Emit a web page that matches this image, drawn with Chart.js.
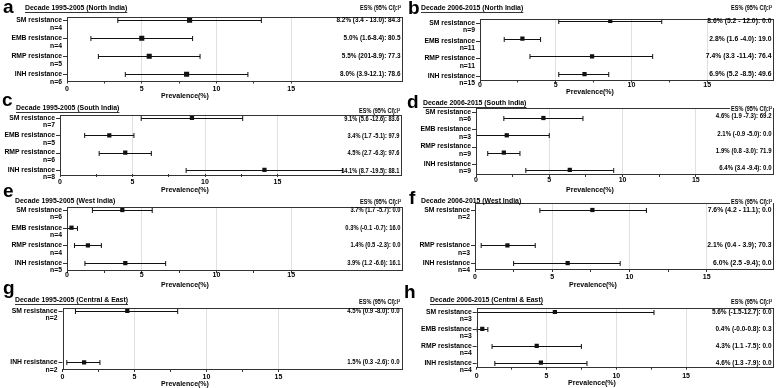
<!DOCTYPE html>
<html lang="en">
<head>
  <meta charset="UTF-8">
  <title>Drug resistance forest plots</title>
  <style>
    body { margin: 0; background: #fff; }
    #wrap { position: relative; width: 778px; height: 388px; }
    #wrap canvas { position: absolute; left: 0; top: 0; }
  </style>
</head>
<body>
  <div id="wrap"></div>

  <script src="https://cdn.jsdelivr.net/npm/chart.js"></script>
  <script>
    // data, one entry per panel (a..h), one slot per drug (null = not reported)
    const drugs = ['SM resistance', 'EMB resistance', 'RMP resistance', 'INH resistance'];
    const letters = ['a', 'b', 'c', 'd', 'e', 'f', 'g', 'h'];
    const titles = [
      'Decade 1995-2005 (North India)', 'Decade 2006-2015 (North India)',
      'Decade 1995-2005 (South India)', 'Decade 2006-2015 (South India)',
      'Decade 1995-2005 (West India)', 'Decade 2006-2015 (West India)',
      'Decade 1995-2005 (Central & East)', 'Decade 2006-2015 (Central & East)'
    ];
    const nCounts = [
      [4, 4, 5, 6], [9, 11, 11, 15], [7, 5, 6, 8], [6, 3, 9, 9],
      [6, 4, 4, 5], [2, null, 3, 4], [2, null, null, 2], [3, 3, 4, 4]
    ];
    const estimates = [
      [8.2, 5.0, 5.5, 8.0], [8.6, 2.8, 7.4, 6.9], [9.1, 3.4, 4.5, 14.1], [4.6, 2.1, 1.9, 6.4],
      [3.7, 0.3, 1.4, 3.9], [7.6, null, 2.1, 6.0], [4.5, null, null, 1.5], [5.6, 0.4, 4.3, 4.6]
    ];
    const lowerCI = [
      [3.4, 1.6, 2.1, 3.9], [5.2, 1.6, 3.3, 5.2], [5.6, 1.7, 2.7, 8.7], [1.9, -0.9, 0.8, 3.4],
      [1.7, -0.1, 0.5, 1.2], [4.2, null, 0.4, 2.5], [0.9, null, null, 0.3], [-1.5, -0.0, 1.1, 1.3]
    ];
    const upperCI = [
      [13.0, 8.4, 8.9, 12.1], [12.0, 4.0, 11.4, 8.5], [12.6, 5.1, 6.3, 19.5], [7.3, 5.0, 3.0, 9.4],
      [5.7, 0.7, 2.3, 6.6], [11.1, null, 3.9, 9.4], [8.0, null, null, 2.6], [12.7, 0.8, 7.5, 7.9]
    ];
    const noteLabels = [
      ['8.2% (3.4 - 13.0): 84.3', '5.0% (1.6-8.4): 80.5', '5.5% (201-8.9): 77.3', '8.0% (3.9-12.1): 78.6'],
      ['8.6% (5.2 - 12.0): 0.0', '2.8% (1.6 -4.0): 19.0', '7.4% (3.3 -11.4): 76.4', '6.9% (5.2 -8.5): 49.6'],
      ['9.1% (5.6 -12.6): 83.6', '3.4% (1.7 -5.1): 97.9', '4.5% (2.7 -6.3): 97.6', '14.1% (8.7 -19.5): 88.1'],
      ['4.6% (1.9 -7.3): 69.2', '2.1% (-0.9 -5.0): 0.0', '1.9% (0.8 -3.0): 71.9', '6.4% (3.4 -9.4): 0.0'],
      ['3.7% (1.7 -5.7): 0.0', '0.3% (-0.1 -0.7): 16.0', '1.4% (0.5 -2.3): 0.0', '3.9% (1.2 -6.6): 16.1'],
      ['7.6% (4.2 - 11.1); 0.0', null, '2.1% (0.4 - 3.9); 70.3', '6.0% (2.5 -9.4); 0.0'],
      ['4.5% (0.9 -8.0): 0.0', null, null, '1.5% (0.3 -2.6): 0.0'],
      ['5.6% (-1.5-12.7): 0.0', '0.4% (-0.0-0.8): 0.3', '4.3% (1.1 -7.5): 0.0', '4.6% (1.3 -7.9): 0.0']
    ];
    const xTicks = [0, 2.5, 5, 7.5, 10, 12.5, 15];
    const header = 'ES% (95% CI):I\u00b2';

    // layout of each panel on the page (pixels); sq = horizontal squeeze of the right-hand text
    const panels = [
      { L: 67, R: 403, T: 17, B: 80.5, pxu: 14.95, row0: 20.3, step: 18, lx: 3, ly: 13, tx: 25, ty: 8, ul: true, hy: 8, ax: 185, ay: 96, pad: 1, labDy: 0, noteDy: 0, pr: 3.6, sq: 0.97 },
      { L: 480, R: 777, T: 19, B: 79.5, pxu: 15.3, row0: 21, step: 17.7, lx: 408, ly: 14, tx: 421, ty: 8, ul: true, hy: 8, ax: 590, ay: 92, pad: -2, labDy: 2, noteDy: 0, pr: 3, sq: 1.03 },
      { L: 60, R: 402, T: 114.5, B: 174, pxu: 14.5, row0: 118, step: 17.3, lx: 2, ly: 106, tx: 16, ty: 108, ul: true, hy: 111, ax: 185, ay: 190, pad: 0.5, labDy: 0, noteDy: 1, pr: 3, sq: 0.86 },
      { L: 476, R: 777, T: 108, B: 174, pxu: 14.8, row0: 118, step: 17.3, lx: 407, ly: 108, tx: 423, ty: 103, ul: true, hy: 109, ax: 590, ay: 190, pad: -1.5, labDy: -6, noteDy: -1.5, pr: 3, sq: 0.92 },
      { L: 67, R: 403, T: 207, B: 270, pxu: 14.95, row0: 210, step: 17.7, lx: 3, ly: 197, tx: 15, ty: 201, ul: false, hy: 202, ax: 185, ay: 285, pad: -2, labDy: 0, noteDy: 0, pr: 3, sq: 0.88 },
      { L: 475, R: 777, T: 203, B: 269, pxu: 15.6, row0: 210, step: 17.7, lx: 409, ly: 204, tx: 421, ty: 201, ul: false, hy: 202, ax: 593, ay: 285, pad: 0.5, labDy: 0, noteDy: 0, pr: 3, sq: 1.03 },
      { L: 62.5, R: 402, T: 308, B: 369, pxu: 14.4, row0: 311, step: 17.1, lx: 3, ly: 294, tx: 15, ty: 300, ul: true, hy: 302, ax: 185, ay: 384, pad: 1, labDy: 0, noteDy: 0, pr: 3, sq: 0.92 },
      { L: 476.7, R: 777, T: 308, B: 366.7, pxu: 14.1, row0: 312, step: 16.9, lx: 404, ly: 298, tx: 430, ty: 300, ul: true, hy: 302, ax: 592, ay: 383, pad: 2, labDy: 0, noteDy: 0, pr: 3, sq: 0.98 }
    ];

    const W = 778, H = 388;
    const FONT = '"Liberation Sans", Arial, sans-serif';
    const bold = size => 'bold ' + size + 'px ' + FONT;

    // right-aligned text, squeezed horizontally by k
    function squeezedRight(ctx, text, x, y, k) {
      ctx.save();
      ctx.translate(x, y);
      ctx.scale(k, 1);
      ctx.textAlign = 'right';
      ctx.fillText(text, 0, 0);
      ctx.restore();
    }

    const forestPlugin = {
      id: 'forest',
      beforeDatasetsDraw(chart, args, opts) {
        const i = opts.idx;
        const { ctx, chartArea: a, scales: { x, y } } = chart;
        ctx.save();
        ctx.beginPath();
        ctx.rect(a.left, a.top, a.right - a.left, a.bottom - a.top);
        ctx.clip();
        ctx.strokeStyle = '#111';
        ctx.lineWidth = 1;
        estimates[i].forEach((v, r) => {
          if (v === null) return;
          const py = Math.round(y.getPixelForValue(r)) + 0.5;
          const x1 = x.getPixelForValue(lowerCI[i][r]);
          const x2 = x.getPixelForValue(upperCI[i][r]);
          ctx.beginPath();
          ctx.moveTo(x1, py); ctx.lineTo(x2, py);
          ctx.moveTo(x1, py - 2.5); ctx.lineTo(x1, py + 2.5);
          ctx.moveTo(x2, py - 2.5); ctx.lineTo(x2, py + 2.5);
          ctx.stroke();
        });
        ctx.restore();
      },
      afterDraw(chart, args, opts) {
        const i = opts.idx, g = panels[i];
        const { ctx, chartArea: a, scales: { y } } = chart;
        ctx.save();

        // frame
        ctx.strokeStyle = '#333';
        ctx.lineWidth = 1;
        ctx.strokeRect(Math.round(a.left) + 0.5, Math.round(a.top) + 0.5,
          Math.round(a.right - a.left) - 1, Math.round(a.bottom - a.top));

        ctx.fillStyle = '#000';
        ctx.textBaseline = 'middle';

        // row labels + n, and the estimate text on the right
        drugs.forEach((d, r) => {
          if (estimates[i][r] === null) return;
          const py = y.getPixelForValue(r);
          const ly = py + g.labDy;
          ctx.font = bold(6.8);
          ctx.textAlign = 'right';
          ctx.fillText(d, a.left - 5, ly);
          ctx.fillText('n=' + nCounts[i][r], a.left - 5, ly + 7.5);
          ctx.beginPath();
          ctx.moveTo(a.left - 4, Math.round(ly) + 0.5);
          ctx.lineTo(a.left, Math.round(ly) + 0.5);
          ctx.stroke();
          ctx.font = bold(6.6);
          squeezedRight(ctx, noteLabels[i][r], a.right - 2.5, py + g.noteDy, g.sq);
        });

        // header above the estimate column
        ctx.font = bold(6.6);
        const hw = ctx.measureText(header).width * 0.84;
        ctx.fillStyle = '#fff';
        ctx.fillRect(a.right - 3 - hw, g.hy - 4, hw + 2, 8);
        ctx.fillStyle = '#000';
        squeezedRight(ctx, header, a.right - 2, g.hy, 0.84);

        // panel letter and title
        ctx.textAlign = 'left';
        ctx.textBaseline = 'alphabetic';
        ctx.font = bold(19);
        ctx.fillText(letters[i], g.lx, g.ly);
        ctx.textBaseline = 'middle';
        ctx.font = bold(6.9);
        ctx.fillText(titles[i], g.tx, g.ty);
        if (g.ul) {
          ctx.fillRect(g.tx, g.ty + 4, ctx.measureText(titles[i]).width, 0.8);
        }

        // axis title
        ctx.textAlign = 'center';
        ctx.font = bold(7);
        ctx.fillText('Prevalence(%)', g.ax, g.ay);
        ctx.restore();
      }
    };

    const wrap = document.getElementById('wrap');

    panels.forEach((g, i) => {
      const canvas = document.createElement('canvas');
      canvas.width = W;
      canvas.height = H;
      wrap.appendChild(canvas);

      const points = [];
      estimates[i].forEach((v, r) => { if (v !== null) points.push({ x: v, y: r }); });

      new Chart(canvas, {
        type: 'scatter',
        data: {
          datasets: [{
            data: points,
            pointStyle: 'rect',
            pointRadius: g.pr,
            backgroundColor: '#111',
            borderColor: '#111',
            borderWidth: 0
          }]
        },
        options: {
          responsive: false,
          animation: false,
          events: [],
          layout: { padding: { top: g.T, right: W - g.R, left: 0, bottom: 0 } },
          plugins: {
            legend: { display: false },
            tooltip: { enabled: false },
            forest: { idx: i }
          },
          scales: {
            x: {
              type: 'linear',
              min: 0,
              max: (g.R - g.L) / g.pxu,
              afterBuildTicks: s => { s.ticks = xTicks.map(v => ({ value: v })); },
              afterFit: s => { s.height = H - g.B; },
              border: { display: false },
              grid: {
                color: c => (c.tick && c.tick.value > 0 && c.tick.value % 5 === 0) ? '#e0e0e0' : 'rgba(0,0,0,0)',
                tickColor: '#333',
                tickLength: 3,
                drawTicks: true
              },
              ticks: {
                autoSkip: false,
                maxRotation: 0,
                padding: g.pad,
                color: '#000',
                font: { family: FONT, size: 7, weight: 'bold' },
                callback: v => (v % 5 === 0 ? v : '')
              }
            },
            y: {
              type: 'linear',
              reverse: true,
              min: (g.T - g.row0) / g.step,
              max: (g.B - g.row0) / g.step,
              afterFit: s => { s.width = g.L; },
              border: { display: false },
              grid: { display: false },
              ticks: { display: false }
            }
          }
        },
        plugins: [forestPlugin]
      });
    });
  </script>
</body>
</html>
